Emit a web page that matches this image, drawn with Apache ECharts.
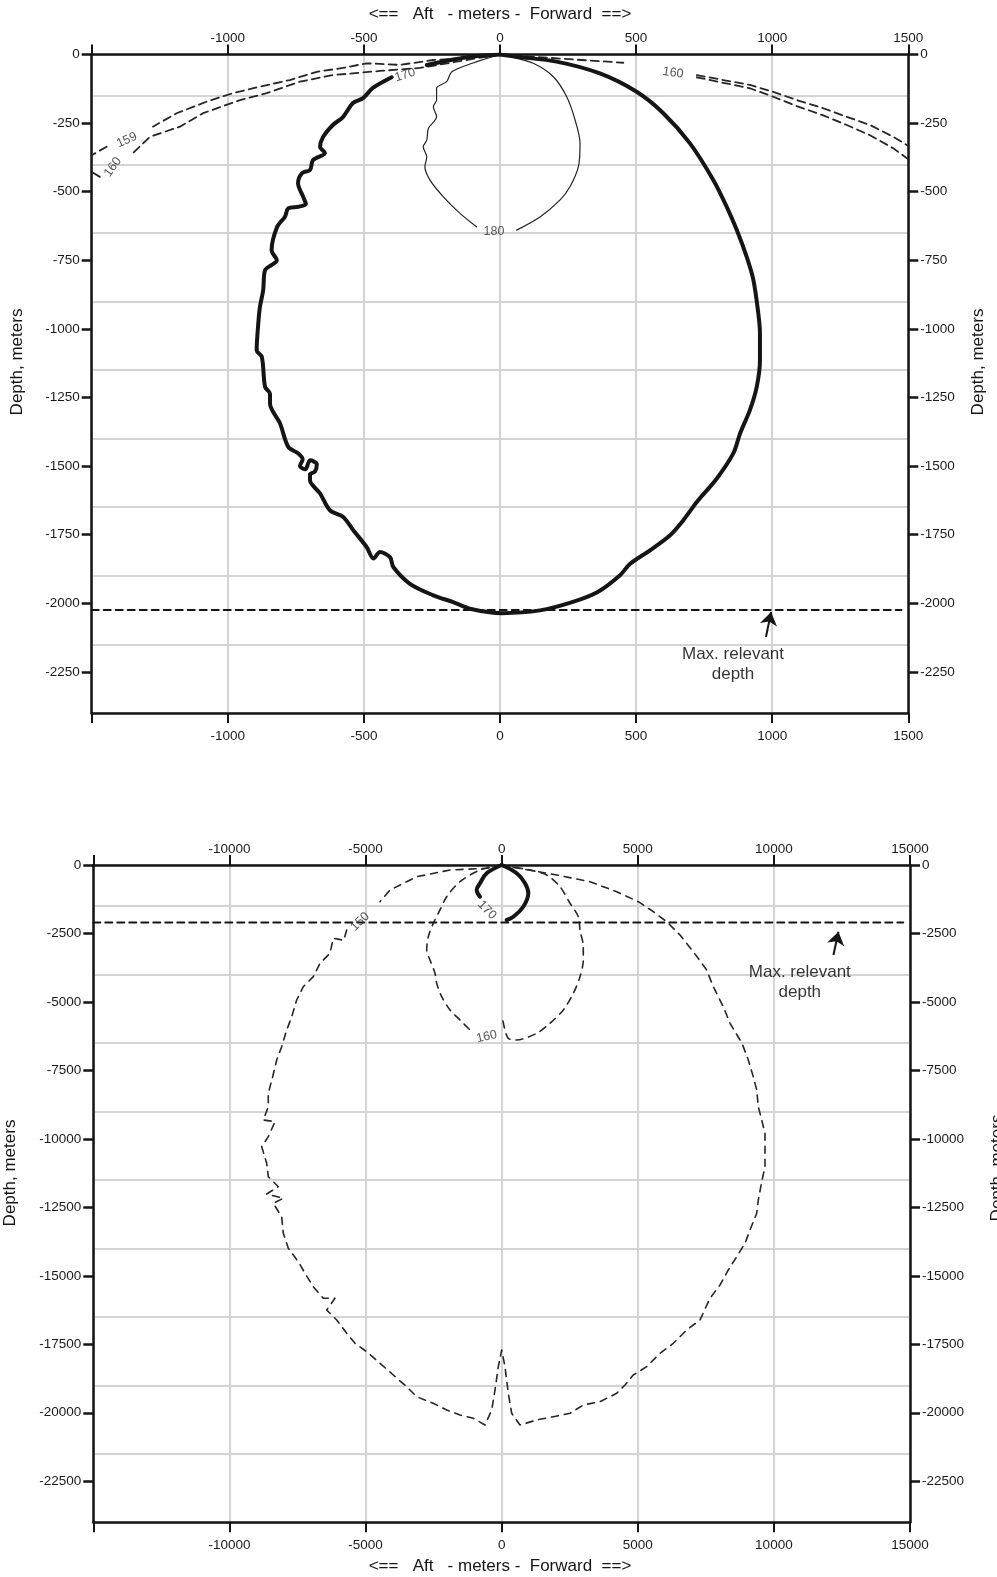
<!DOCTYPE html>
<html>
<head>
<meta charset="utf-8">
<script src="https://cdn.jsdelivr.net/npm/echarts@6/dist/echarts.min.js"></script>
<style>
html,body{margin:0;padding:0;background:#fff;}
#chart{width:997px;height:1577px;}
</style>
</head>
<body>
<div id="chart"></div>
<script>
var FONT = '"Liberation Sans", Arial, Helvetica, sans-serif';

// ---------- upper plot (near field, +-1500 m) ----------
var nearDepthTicks = [0, -250, -500, -750, -1000, -1250, -1500, -1750, -2000, -2250];
// 170 contour (thick), split round its label
var near170a = [[0,0],[-122,-10],[-269,-38]];
var near170b = [[-398,-83],[-467,-122],[-503,-159],[-540,-177],[-577,-228],[-614,-257],[-650,-301],[-661,-337],[-643,-359],[-687,-385],[-698,-421],[-727,-432],[-742,-469],[-723,-519],[-713,-545],[-741,-555],[-778,-561],[-790,-591],[-819,-629],[-839,-713],[-820,-750],[-863,-786],[-870,-859],[-882,-920],[-888,-980],[-894,-1078],[-875,-1102],[-863,-1212],[-845,-1236],[-845,-1272],[-808,-1345],[-778,-1430],[-741,-1454],[-725,-1475],[-735,-1500],[-715,-1512],[-698,-1479],[-673,-1493],[-680,-1520],[-698,-1530],[-698,-1552],[-661,-1600],[-625,-1661],[-576,-1686],[-539,-1734],[-490,-1795],[-465,-1837],[-441,-1813],[-404,-1832],[-392,-1868],[-331,-1929],[-245,-1971],[-172,-1996],[-110,-2020],[7,-2036],[147,-2026],[265,-1996],[359,-1959],[441,-1898],[478,-1856],[551,-1807],[625,-1752],[673,-1698],[723,-1631],[796,-1546],[857,-1454],[882,-1381],[918,-1296],[943,-1212],[955,-1114],[955,-1017],[949,-944],[931,-822],[906,-737],[870,-640],[833,-555],[784,-458],[698,-324],[600,-214],[502,-136],[367,-69],[208,-26],[61,-8],[0,0]];
// 180 contour (thin)
var near180a = [[0,0],[-99,-31],[-177,-63],[-196,-99],[-233,-123],[-233,-166],[-245,-190],[-233,-227],[-263,-269],[-269,-312],[-282,-336],[-269,-373],[-276,-409],[-257,-458],[-208,-519],[-147,-579],[-86,-628]];
var near180b = [[61,-640],[147,-592],[220,-531],[257,-482],[288,-409],[294,-324],[276,-239],[245,-154],[196,-81],[122,-32],[37,-8],[0,0]];
// dashed contours, aft side
var near159a = [[0,0],[-49,-8],[-246,-20],[-367,-38],[-490,-32],[-577,-49],[-673,-63],[-772,-93],[-882,-117],[-981,-141],[-1078,-172],[-1188,-214],[-1275,-263]];
var near159b = [[-1445,-336],[-1500,-367]];
var near160a = [[0,0],[-86,-14],[-294,-49],[-441,-60],[-614,-75],[-735,-99],[-857,-141],[-955,-166],[-1091,-214],[-1176,-263],[-1286,-300],[-1348,-359]];
var near160b = [[-1470,-446],[-1500,-428]];
// dashed contours, forward side
var near160c = [[0,0],[269,-18],[453,-30]];
var near159d = [[723,-75],[820,-93],[918,-111],[1004,-136],[1090,-166],[1188,-196],[1274,-227],[1359,-257],[1445,-300],[1500,-333]];
var near160d = [[723,-83],[820,-103],[918,-123],[1004,-154],[1090,-188],[1188,-222],[1274,-257],[1359,-294],[1445,-342],[1500,-382]];
var nearMaxDepth = [[-1500,-2025],[1475,-2025]];
var nearArrow = [[977,-2123],[996,-2032]];
var nearTagText = ['170', '159', '160', '180', '160'];
var nearTagPos = [[-349,-75],[-1371,-312],[-1422,-410],[-22,-647],[636,-67]];
var nearTagRot = [18, 24, 55, 0, -8];
var nearNotePos = [856,-2222];

// ---------- lower plot (far field, +-15000 m) ----------
var farDepthTicks = [0, -2500, -5000, -7500, -10000, -12500, -15000, -17500, -20000, -22500];
var far170a = [[0,0],[-549,-303],[-795,-668],[-917,-913],[-795,-1157]];
var far170b = [[186,-2008],[428,-1888],[795,-1523],[979,-1033],[858,-668],[553,-303],[0,0]];
var far160a = [[0,0],[-795,-183],[-1530,-610],[-2019,-1157],[-2265,-1643],[-2511,-2129],[-2694,-2618],[-2753,-3104],[-2632,-3469],[-2449,-3954],[-2386,-4319],[-2202,-4809],[-1897,-5294],[-1530,-5660],[-1163,-6025]];
var far160b = [[50,-5700],[233,-6317],[553,-6390],[1288,-6145],[1776,-5780],[2265,-5294],[2632,-4685],[2878,-4078],[2999,-3469],[2999,-2983],[2878,-2373],[2816,-1888],[2511,-1398],[2143,-792],[1655,-365],[1041,-183],[307,-62],[0,0]];
var far150a = [[0,0],[-549,-120],[-1897,-183],[-3121,-427],[-4101,-913],[-4469,-1340]];
var far150b = [[-5692,-2373],[-5800,-2750],[-6184,-2676],[-6306,-3224],[-6673,-3589],[-6919,-4078],[-7286,-4443],[-7529,-4929],[-7712,-5539],[-7896,-6025],[-8080,-6634],[-8263,-7120],[-8410,-7730],[-8572,-8336],[-8572,-8825],[-8755,-9311],[-8326,-9373],[-8572,-9920],[-8814,-10285],[-8631,-10892],[-8572,-11381],[-8204,-11746],[-8631,-12013],[-8021,-12170],[-8392,-12351],[-8080,-12841],[-8021,-13448],[-7837,-13995],[-7470,-14484],[-7224,-14908],[-6919,-15397],[-6551,-15821],[-6122,-15821],[-6427,-16248],[-6059,-16613],[-5692,-17099],[-5387,-17464],[-4957,-17771],[-4469,-18194],[-3980,-18621],[-3488,-19048],[-3121,-19414],[-2511,-19655],[-2019,-19899],[-1530,-20082],[-1041,-20202],[-612,-20447],[-365,-19899],[-244,-19169],[-123,-18318],[2,-17708],[123,-18318],[244,-19289],[369,-20020],[674,-20447],[1288,-20264],[1897,-20144],[2511,-20019],[2999,-19717],[3613,-19596],[4226,-19289],[4531,-18986],[4836,-18621],[5328,-18318],[5817,-17829],[6306,-17464],[6798,-16978],[7286,-16613],[7653,-15821],[8021,-15335],[8326,-14787],[8634,-14302],[8939,-13813],[9123,-13327],[9369,-12717],[9428,-12232],[9553,-11563],[9674,-11016],[9674,-10406],[9674,-9796],[9553,-9311],[9428,-8825],[9369,-8215],[9244,-7730],[9060,-7120],[8829,-6510],[8388,-5780],[8142,-5174],[7775,-4443],[7532,-3834],[7040,-3166],[6552,-2556],[6063,-2070],[5571,-1705],[5020,-1340],[4226,-975],[3245,-610],[2022,-365],[307,-62],[0,0]];
var farMaxDepth = [[-15000,-2100],[14750,-2100]];
var farArrow = [[12188,-3286],[12372,-2435]];
var farTagText = ['150', '170', '160'];
var farTagPos = [[-5203,-2070],[-539,-1643],[-549,-6269]];
var farTagRot = [45, -45, 12];
var farNotePos = [10952,-4290];

var INK = '#151515';
var GRID = '#d4d4d4';
var DASH = '#262626';

function xAxisOf(grid, pos, lim, step, split, margin) {
  return {
    gridIndex: grid, type: 'value', position: pos, min: -lim, max: lim, interval: step,
    axisLine: {show: true, onZero: false, lineStyle: {color: INK, width: 2.5}},
    axisTick: {show: true, inside: false, length: 10, lineStyle: {color: INK, width: 2}},
    axisLabel: {show: true, margin: margin, color: '#1a1a1a', fontSize: 13.5, fontFamily: FONT,
      showMinLabel: true, showMaxLabel: true,
      formatter: function (v) { return v === -lim ? '' : String(v); }},
    splitLine: {show: split, lineStyle: {color: GRID, width: 2}}
  };
}
function yAxisOf(grid, pos, bottom, ticks) {
  return {
    gridIndex: grid, type: 'value', position: pos, min: bottom, max: 0,
    axisLine: {show: true, onZero: false, lineStyle: {color: INK, width: 2.5}},
    axisTick: {show: true, inside: false, length: 10, customValues: ticks, lineStyle: {color: INK, width: 2.5}},
    axisLabel: {show: true, margin: 12, customValues: ticks, color: '#1a1a1a', fontSize: 13.5, fontFamily: FONT,
      formatter: function (v) { return String(v); }},
    splitLine: {show: false}
  };
}
// horizontal grid lines sit 0.6 of a step below each depth tick
function gridAxisOf(grid, min, max, step) {
  return {
    gridIndex: grid, type: 'value', position: 'left', min: min, max: max, interval: step, z: 0,
    axisLine: {show: false}, axisTick: {show: false}, axisLabel: {show: false},
    splitLine: {show: true, lineStyle: {color: GRID, width: 2}}
  };
}

function curve(xi, yi, data, width, dash, color, smooth) {
  return {
    type: 'line', xAxisIndex: xi, yAxisIndex: yi, data: data, symbol: 'none', showSymbol: false,
    silent: true, z: 3, smooth: smooth || false,
    lineStyle: {color: color || INK, width: width, type: dash || 'solid', cap: 'round', join: 'round'}
  };
}
function tags(xi, yi, text, pos, rot) {
  return {
    type: 'scatter', xAxisIndex: xi, yAxisIndex: yi, symbolSize: 1, silent: true, z: 4,
    itemStyle: {color: 'rgba(0,0,0,0)'},
    label: {show: true, position: 'inside', formatter: '{b}', color: '#2a2a2a', fontSize: 12.5, fontFamily: FONT,
      textBorderWidth: 0},
    data: text.map(function (t, i) {
      return {name: t, value: pos[i], label: {rotate: rot[i]}};
    })
  };
}
function note(xi, yi, pos) {
  return {
    type: 'scatter', xAxisIndex: xi, yAxisIndex: yi, symbolSize: 1, silent: true, z: 4,
    itemStyle: {color: 'rgba(0,0,0,0)'},
    label: {show: true, position: 'inside', formatter: 'Max. relevant\ndepth', lineHeight: 20,
      color: '#000', fontSize: 17, fontFamily: FONT, textBorderWidth: 0},
    data: [{name: 'note', value: pos}]
  };
}
function arrow(xi, yi, coords) {
  return {
    type: 'lines', coordinateSystem: 'cartesian2d', xAxisIndex: xi, yAxisIndex: yi, silent: true, z: 4,
    symbol: ['none', 'arrow'], symbolSize: [9, 13],
    lineStyle: {color: INK, width: 2, curveness: 0, opacity: 1},
    data: [{coords: coords}]
  };
}

var chart = echarts.init(document.getElementById('chart'), null, {renderer: 'canvas'});
var title = '<==   Aft   - meters -  Forward  ==>';
function name(x, y, t, rot) {
  return {type: 'text', x: x, y: y, rotation: rot, silent: true,
    style: {text: t, fill: INK, fontSize: 17, fontFamily: FONT, align: 'center', verticalAlign: 'middle'}};
}

chart.setOption({
  animation: false,
  backgroundColor: '#fff',
  grid: [
    {left: 91.7, width: 816.6, top: 54.5, height: 658.5, outerBoundsMode: 'none', containLabel: false},
    {left: 93.3, width: 816.7, top: 865, height: 657.3, outerBoundsMode: 'none', containLabel: false}
  ],
  xAxis: [
    xAxisOf(0, 'top', 1500, 500, true, 9),
    xAxisOf(0, 'bottom', 1500, 500, false, 16),
    xAxisOf(1, 'top', 15000, 5000, true, 9),
    xAxisOf(1, 'bottom', 15000, 5000, false, 16)
  ],
  yAxis: [
    yAxisOf(0, 'left', -2400, nearDepthTicks),
    yAxisOf(0, 'right', -2400, nearDepthTicks),
    gridAxisOf(0, -2250, 150, 250),
    yAxisOf(1, 'left', -24000, farDepthTicks),
    yAxisOf(1, 'right', -24000, farDepthTicks),
    gridAxisOf(1, -22500, 1500, 2500)
  ],
  graphic: [
    name(500, 14.5, title, 0),
    name(500, 1566, title, 0),
    name(17, 362, 'Depth, meters', Math.PI / 2),
    name(978, 362, 'Depth, meters', Math.PI / 2),
    name(10, 1173, 'Depth, meters', Math.PI / 2),
    name(997, 1168, 'Depth, meters', Math.PI / 2)
  ],
  series: [
    curve(0, 0, near159a, 1.8, [8, 5], DASH),
    curve(0, 0, near159b, 1.8, [8, 5], DASH),
    curve(0, 0, near160a, 1.8, [8, 5], DASH),
    curve(0, 0, near160b, 1.8, [8, 5], DASH),
    curve(0, 0, near160c, 1.8, [8, 5], DASH),
    curve(0, 0, near159d, 1.8, [8, 5], DASH),
    curve(0, 0, near160d, 1.8, [8, 5], DASH),
    curve(0, 0, near180a, 1.2, 'solid', '#222', 0.3),
    curve(0, 0, near180b, 1.2, 'solid', '#222', 0.3),
    curve(0, 0, near170a, 4, 'solid', INK, 0.3),
    curve(0, 0, near170b, 4, 'solid', INK, 0.3),
    curve(0, 0, nearMaxDepth, 2, [7, 5]),
    arrow(0, 0, nearArrow),
    tags(0, 0, nearTagText, nearTagPos, nearTagRot),
    note(0, 0, nearNotePos),

    curve(2, 3, far150a, 1.6, [7, 6], DASH),
    curve(2, 3, far150b, 1.6, [7, 6], DASH),
    curve(2, 3, far160a, 1.6, [7, 6], DASH, 0.3),
    curve(2, 3, far160b, 1.6, [7, 6], DASH, 0.3),
    curve(2, 3, far170a, 4, 'solid', INK, 0.4),
    curve(2, 3, far170b, 4, 'solid', INK, 0.4),
    curve(2, 3, farMaxDepth, 2, [7, 5]),
    arrow(2, 3, farArrow),
    tags(2, 3, farTagText, farTagPos, farTagRot),
    note(2, 3, farNotePos)
  ]
});
</script>
</body>
</html>
